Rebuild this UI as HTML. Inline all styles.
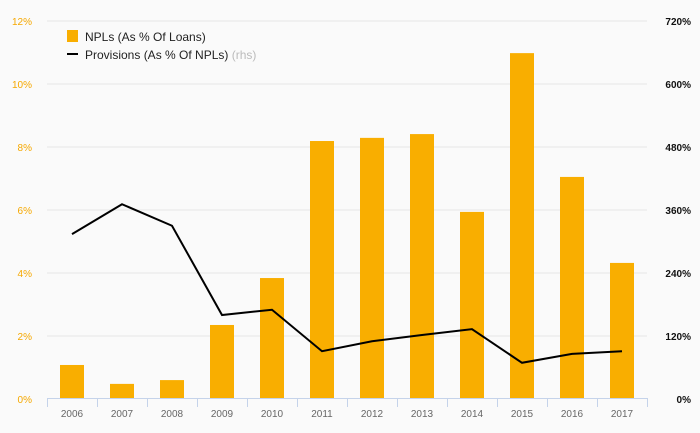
<!DOCTYPE html>
<html><head><meta charset="utf-8"><style>
body{margin:0;background:#fafafa;font-family:"Liberation Sans",sans-serif}
svg{display:block}
</style></head><body>
<svg id="chart" width="700" height="433" viewBox="0 0 700 433">
<rect width="700" height="433" fill="#fafafa"/>
<g id="grid"></g><g id="bars"></g><g id="axes"></g><g id="line"></g>
<g>
<rect x="67" y="30" width="11" height="12" fill="#f9ae00"/>
<text x="85" y="41" font-size="12" fill="#222">NPLs (As % Of Loans)</text>
<rect x="67" y="53" width="11" height="2" fill="#000"/>
<text x="85" y="59" font-size="12" fill="#222">Provisions (As % Of NPLs) <tspan fill="#bbb">(rhs)</tspan></text>
</g>
</svg>
<script>
const categories=["2006","2007","2008","2009","2010","2011","2012","2013","2014","2015","2016","2017"];
const nplValues=[1.08,0.48,0.6,2.35,3.84,8.19,8.29,8.41,5.94,10.98,7.05,4.32];
const provisionValues=[314,371,330,160,170,91,110,122,133,69,86,91];
const leftTicks=[0,2,4,6,8,10,12];
const rightTicks=[0,120,240,360,480,600,720];
const NS="http://www.w3.org/2000/svg";
const x0=47,step=50,yBot=399,yTop=21;
const xC=i=>x0+step*(i+0.5);
const yL=v=>yBot-(v/12)*(yBot-yTop);
const yR=v=>yBot-(v/720)*(yBot-yTop);
function mk(tag,attrs,parent){const e=document.createElementNS(NS,tag);for(const k in attrs)e.setAttribute(k,attrs[k]);document.getElementById(parent).appendChild(e);return e;}
leftTicks.forEach((t,i)=>{
  const y=yL(t);
  if(t>0){const g=mk("line",{x1:x0,x2:647,y1:y,y2:y,stroke:"#e6e6e6","stroke-width":1},"grid");
  
  }
  const l=mk("text",{x:32,y:y+4,"font-size":10,fill:"#f5a800","text-anchor":"end"},"axes");l.textContent=t+"%";
  
  
  const r=mk("text",{x:691,y:yR(rightTicks[i])+4,"font-size":10,fill:"#111","font-weight":"bold","text-anchor":"end"},"axes");r.textContent=rightTicks[i]+"%";
  
  
});
const ax=mk("line",{x1:x0,x2:x0+step*12,y1:398.5,y2:398.5,stroke:"#c5d3ea","stroke-width":1},"axes");


for(let i=0;i<=12;i++){const t=mk("line",{x1:x0+step*i+0.5,x2:x0+step*i+0.5,y1:398,y2:407,stroke:"#c5d3ea"},"axes");

}
categories.forEach((c,i)=>{
  const b=mk("rect",{x:xC(i)-12,y:yL(nplValues[i]),width:24,height:yBot-yL(nplValues[i]),fill:"#f9ae00"},"bars");
  
  
  const l=mk("text",{x:xC(i),y:417,"font-size":10,fill:"#666","text-anchor":"middle"},"axes");l.textContent=c;
  
  
});
const p=mk("polyline",{points:provisionValues.map((v,i)=>xC(i)+","+yR(v)).join(" "),fill:"none",stroke:"#000","stroke-width":2},"line");


</script>
</body></html>
